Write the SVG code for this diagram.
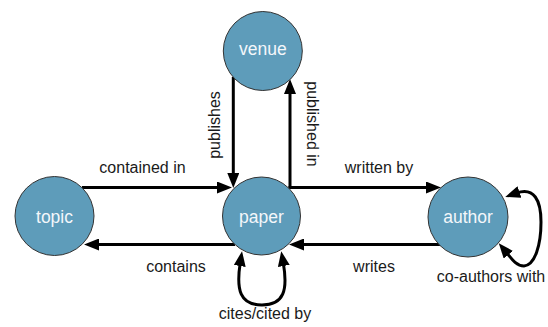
<svg xmlns="http://www.w3.org/2000/svg" width="548" height="327" viewBox="0 0 548 327">
  <style>
    .node circle { fill: #5e9cba; stroke: #333; stroke-width: 1; }
    .node text { font-family: "Liberation Sans", Arial, sans-serif; font-size: 17.5px; fill: #f4f7fa; text-anchor: middle; }
    .edge { fill: none; stroke: #000; stroke-width: 3; }
    .lbl { font-family: "Liberation Sans", Arial, sans-serif; font-size: 16px; fill: #1a1a1a; text-anchor: middle; }
  </style>
  <defs>
    <marker id="arrow" markerUnits="userSpaceOnUse" markerWidth="15" markerHeight="12" refX="3" refY="6" orient="auto-start-reverse">
      <path d="M0,0 L15,6 L0,12 z" fill="#000"/>
    </marker>
  </defs>

  <!-- connectors -->
  <g id="edges">
    <!-- topic -> paper -->
    <path id="e-contained-in" class="edge" d="M82,187.5 L220,187.5" marker-end="url(#arrow)"/>
    <!-- paper -> topic -->
    <path id="e-contains" class="edge" d="M235,244.5 L96,244.5" marker-end="url(#arrow)"/>
    <!-- venue -> paper -->
    <path id="e-publishes" class="edge" d="M233.3,77 L233.3,176" marker-end="url(#arrow)"/>
    <!-- paper -> venue -->
    <path id="e-published-in" class="edge" d="M290,188 L290,91" marker-end="url(#arrow)"/>
    <!-- paper -> author -->
    <path id="e-written-by" class="edge" d="M288.5,187.5 L429,187.5" marker-end="url(#arrow)"/>
    <!-- author -> paper -->
    <path id="e-writes" class="edge" d="M441,244.5 L301,244.5" marker-end="url(#arrow)"/>
    <!-- paper self loop -->
    <path id="e-cites" class="edge" d="M240.2,263 C236,290 240,305 262,305 C284,305 288,290 283.3,263" marker-start="url(#arrow)" marker-end="url(#arrow)"/>
    <!-- author self loop -->
    <path id="e-coauthors" class="edge" d="M516.6,193 C534,187 541,200 541,222 C541,245 535,265 524,266 C516,266 511,258 506.4,252.4" marker-start="url(#arrow)" marker-end="url(#arrow)"/>

    <text class="lbl" x="142.5" y="173">contained in</text>
    <text class="lbl" x="176" y="272">contains</text>
    <text class="lbl" transform="translate(220,125) rotate(-90)">publishes</text>
    <text class="lbl" transform="translate(306.5,124) rotate(90)">published in</text>
    <text class="lbl" x="379" y="173">written by</text>
    <text class="lbl" x="374" y="272">writes</text>
    <text class="lbl" x="265" y="319">cites/cited by</text>
    <text class="lbl" x="491" y="282">co-authors with</text>
  </g>

  <!-- nodes -->
  <g id="venue" class="node">
    <circle cx="262.8" cy="51" r="39.5"/>
    <text x="262.8" y="55">venue</text>
  </g>
  <g id="topic" class="node">
    <circle cx="54.5" cy="216" r="39.5"/>
    <text x="54.5" y="222.5">topic</text>
  </g>
  <g id="paper" class="node">
    <circle cx="261.5" cy="216" r="39"/>
    <text x="261.5" y="222.5">paper</text>
  </g>
  <g id="author" class="node">
    <circle cx="468" cy="217" r="40"/>
    <text x="468" y="222.5">author</text>
  </g>
</svg>
